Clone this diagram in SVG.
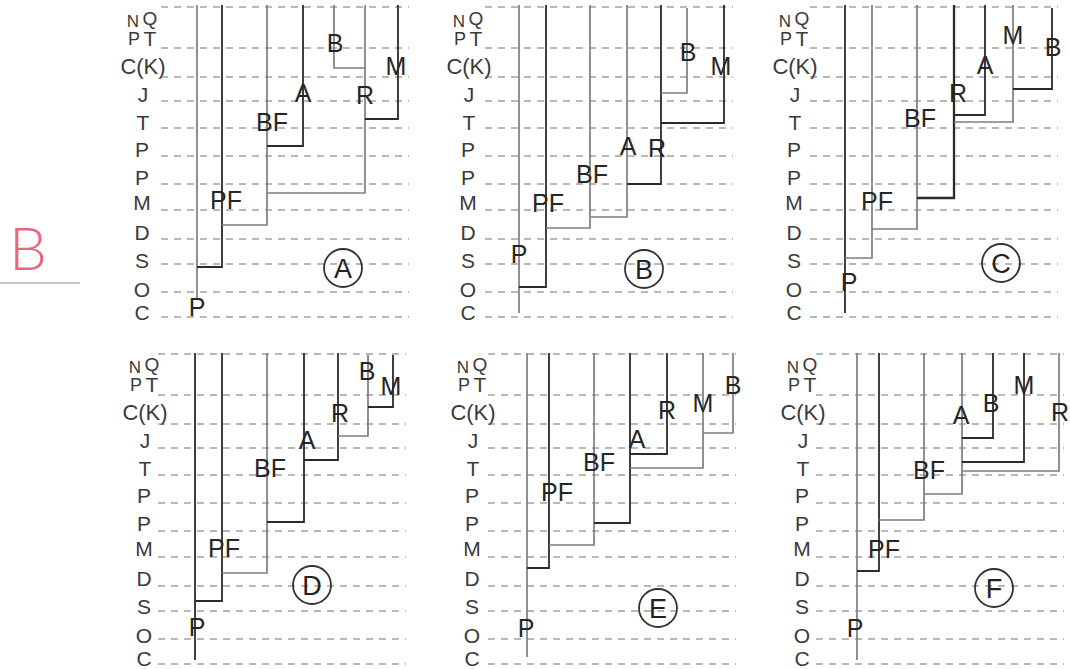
<svg xmlns="http://www.w3.org/2000/svg" width="1070" height="669" viewBox="0 0 1070 669">
<style>
.grid{fill:none;stroke:#a3a3a3;stroke-width:1.3;stroke-dasharray:7 6}
.dk{fill:none;stroke:#2b2b2b;stroke-width:1.8}
.lt{fill:none;stroke:#7d7d7d;stroke-width:1.7}
text{font-family:"Liberation Sans",Arial,sans-serif;text-anchor:middle}
.ax{font-size:21px;fill:#3a3a3a}
.tx{font-size:25px;fill:#262626}
.ring{fill:none;stroke:#333;stroke-width:1.8}
.rl{font-size:27px;fill:#222}
.hand{font-family:Lato,"DejaVu Sans",sans-serif;font-weight:300;font-size:60px;fill:#e5687f}
</style>
<defs>
<path id="grid" class="grid" d="M0,7H248M0,48H248M0,77H248M0,101H248M0,128H248M0,156H248M0,184H248M0,210H248M0,239H248M0,264H248M0,292H248M0,317H248"/>
<g id="axis" class="ax">
<text x="-9" y="27" style="font-size:17px">N</text>
<text x="8" y="25" style="font-size:19px">Q</text>
<text x="-8" y="45" style="font-size:18px">P</text>
<text x="8" y="46">T</text>
<text x="1" y="74" style="font-size:22px">C(K)</text>
<text x="1" y="102">J</text>
<text x="1" y="130">T</text>
<text x="0" y="157">P</text>
<text x="0" y="185">P</text>
<text x="0" y="210">M</text>
<text x="0" y="240">D</text>
<text x="0" y="268">S</text>
<text x="0" y="297">O</text>
<text x="0" y="320">C</text>
</g>
</defs>
<rect width="1070" height="669" fill="#fff"/>

<g id="answer-mark">
<text class="hand" x="28" y="270">B</text>
<line x1="0" y1="283" x2="80" y2="283" stroke="#8a8a8a" stroke-width="1"/>
</g>

<g id="panel-A">
<use href="#grid" x="161" y="0"/>
<use href="#axis" x="142" y="0"/>
<g id="A-connectors">
<path class="lt" d="M197,5V300"/>
<path class="dk" d="M222,5V267H197"/>
<path class="lt" d="M267,5V225H222"/>
<path class="dk" d="M303,5V146H267"/>
<path class="lt" d="M365,5V193H267"/>
<path class="lt" d="M334,5V68H365"/>
<path class="dk" d="M398,5V119H365"/>
</g>
<g id="A-P"><text class="tx" x="197" y="316">P</text></g>
<g id="A-PF"><text class="tx" x="226" y="209">PF</text></g>
<g id="A-BF"><text class="tx" x="272" y="131">BF</text></g>
<g id="A-A"><text class="tx" x="303" y="102">A</text></g>
<g id="A-R"><text class="tx" x="365" y="104">R</text></g>
<g id="A-B"><text class="tx" x="335" y="52">B</text></g>
<g id="A-M"><text class="tx" x="396" y="75">M</text></g>
<g id="A-tag"><circle class="ring" cx="343" cy="268" r="19"/><text class="rl" x="343" y="278">A</text></g>
</g>

<g id="panel-B">
<use href="#grid" x="485" y="0"/>
<use href="#axis" x="468" y="0"/>
<g id="B-connectors">
<path class="lt" d="M519,5V313"/>
<path class="dk" d="M546,5V287H519"/>
<path class="lt" d="M590,5V228H546"/>
<path class="lt" d="M627,5V217H590"/>
<path class="dk" d="M661,5V184H627"/>
<path class="lt" d="M687,8V93H661"/>
<path class="dk" d="M724,5V123H661"/>
</g>
<g id="B-P"><text class="tx" x="519" y="263">P</text></g>
<g id="B-PF"><text class="tx" x="548" y="212">PF</text></g>
<g id="B-BF"><text class="tx" x="592" y="183">BF</text></g>
<g id="B-A"><text class="tx" x="628" y="155">A</text></g>
<g id="B-R"><text class="tx" x="657" y="157">R</text></g>
<g id="B-B"><text class="tx" x="688" y="61">B</text></g>
<g id="B-M"><text class="tx" x="721" y="75">M</text></g>
<g id="B-tag"><circle class="ring" cx="644" cy="269" r="19"/><text class="rl" x="644" y="279">B</text></g>
</g>

<g id="panel-C">
<use href="#grid" x="810" y="0"/>
<use href="#axis" x="794" y="0"/>
<g id="C-connectors">
<path class="dk" d="M845,5V313"/>
<path class="lt" d="M872,5V258H845"/>
<path class="lt" d="M917,5V229H872"/>
<path class="dk" d="M954,5V198H917" style="stroke-width:2.3"/>
<path class="dk" d="M985,5V115H954"/>
<path class="lt" d="M1013,5V122H954"/>
<path class="dk" d="M1052,8V89H1013"/>
</g>
<g id="C-P"><text class="tx" x="849" y="291">P</text></g>
<g id="C-PF"><text class="tx" x="877" y="210">PF</text></g>
<g id="C-BF"><text class="tx" x="920" y="127">BF</text></g>
<g id="C-R"><text class="tx" x="958" y="102">R</text></g>
<g id="C-A"><text class="tx" x="985" y="74">A</text></g>
<g id="C-M"><text class="tx" x="1013" y="44">M</text></g>
<g id="C-B"><text class="tx" x="1053" y="56">B</text></g>
<g id="C-tag"><circle class="ring" cx="1001" cy="263" r="19"/><text class="rl" x="1001" y="273">C</text></g>
</g>

<g id="panel-D">
<use href="#grid" x="158" y="347"/>
<use href="#axis" x="144" y="346"/>
<g id="D-connectors">
<path class="dk" d="M195,353V660"/>
<path class="dk" d="M222,353V601H195"/>
<path class="lt" d="M267,353V573H222"/>
<path class="dk" d="M304,353V522H267"/>
<path class="dk" d="M338,353V460H304"/>
<path class="lt" d="M368,355V436H338"/>
<path class="dk" d="M393,355V407H368"/>
</g>
<g id="D-P"><text class="tx" x="197" y="636">P</text></g>
<g id="D-PF"><text class="tx" x="224" y="557">PF</text></g>
<g id="D-BF"><text class="tx" x="270" y="477">BF</text></g>
<g id="D-A"><text class="tx" x="307" y="449">A</text></g>
<g id="D-R"><text class="tx" x="340" y="422">R</text></g>
<g id="D-B"><text class="tx" x="367" y="380">B</text></g>
<g id="D-M"><text class="tx" x="391" y="395">M</text></g>
<g id="D-tag"><circle class="ring" cx="312" cy="585" r="19"/><text class="rl" x="312" y="595">D</text></g>
</g>

<g id="panel-E">
<use href="#grid" x="488" y="347"/>
<use href="#axis" x="472" y="346"/>
<g id="E-connectors">
<path class="lt" d="M527,353V657"/>
<path class="dk" d="M549,353V568H527"/>
<path class="lt" d="M594,353V545H549"/>
<path class="dk" d="M630,353V523H594"/>
<path class="dk" d="M667,353V454H630"/>
<path class="lt" d="M703,353V468H630"/>
<path class="lt" d="M733,353V433H703"/>
</g>
<g id="E-P"><text class="tx" x="526" y="637">P</text></g>
<g id="E-PF"><text class="tx" x="557" y="501">PF</text></g>
<g id="E-BF"><text class="tx" x="599" y="471">BF</text></g>
<g id="E-A"><text class="tx" x="637" y="448">A</text></g>
<g id="E-R"><text class="tx" x="667" y="419">R</text></g>
<g id="E-M"><text class="tx" x="703" y="412">M</text></g>
<g id="E-B"><text class="tx" x="733" y="394">B</text></g>
<g id="E-tag"><circle class="ring" cx="658" cy="608" r="19"/><text class="rl" x="658" y="618">E</text></g>
</g>

<g id="panel-F">
<use href="#grid" x="816" y="347"/>
<use href="#axis" x="802" y="346"/>
<g id="F-connectors">
<path class="lt" d="M857,353V660"/>
<path class="dk" d="M879,353V571H857"/>
<path class="lt" d="M924,353V520H879"/>
<path class="lt" d="M962,353V494H924"/>
<path class="dk" d="M993,353V438H962"/>
<path class="dk" d="M1024,353V462H962"/>
<path class="lt" d="M1059,353V471H962"/>
</g>
<g id="F-P"><text class="tx" x="855" y="637">P</text></g>
<g id="F-PF"><text class="tx" x="884" y="558">PF</text></g>
<g id="F-BF"><text class="tx" x="929" y="479">BF</text></g>
<g id="F-A"><text class="tx" x="961" y="424">A</text></g>
<g id="F-B"><text class="tx" x="991" y="412">B</text></g>
<g id="F-M"><text class="tx" x="1024" y="394">M</text></g>
<g id="F-R"><text class="tx" x="1060" y="421">R</text></g>
<g id="F-tag"><circle class="ring" cx="994" cy="588" r="19"/><text class="rl" x="994" y="598">F</text></g>
</g>
</svg>
